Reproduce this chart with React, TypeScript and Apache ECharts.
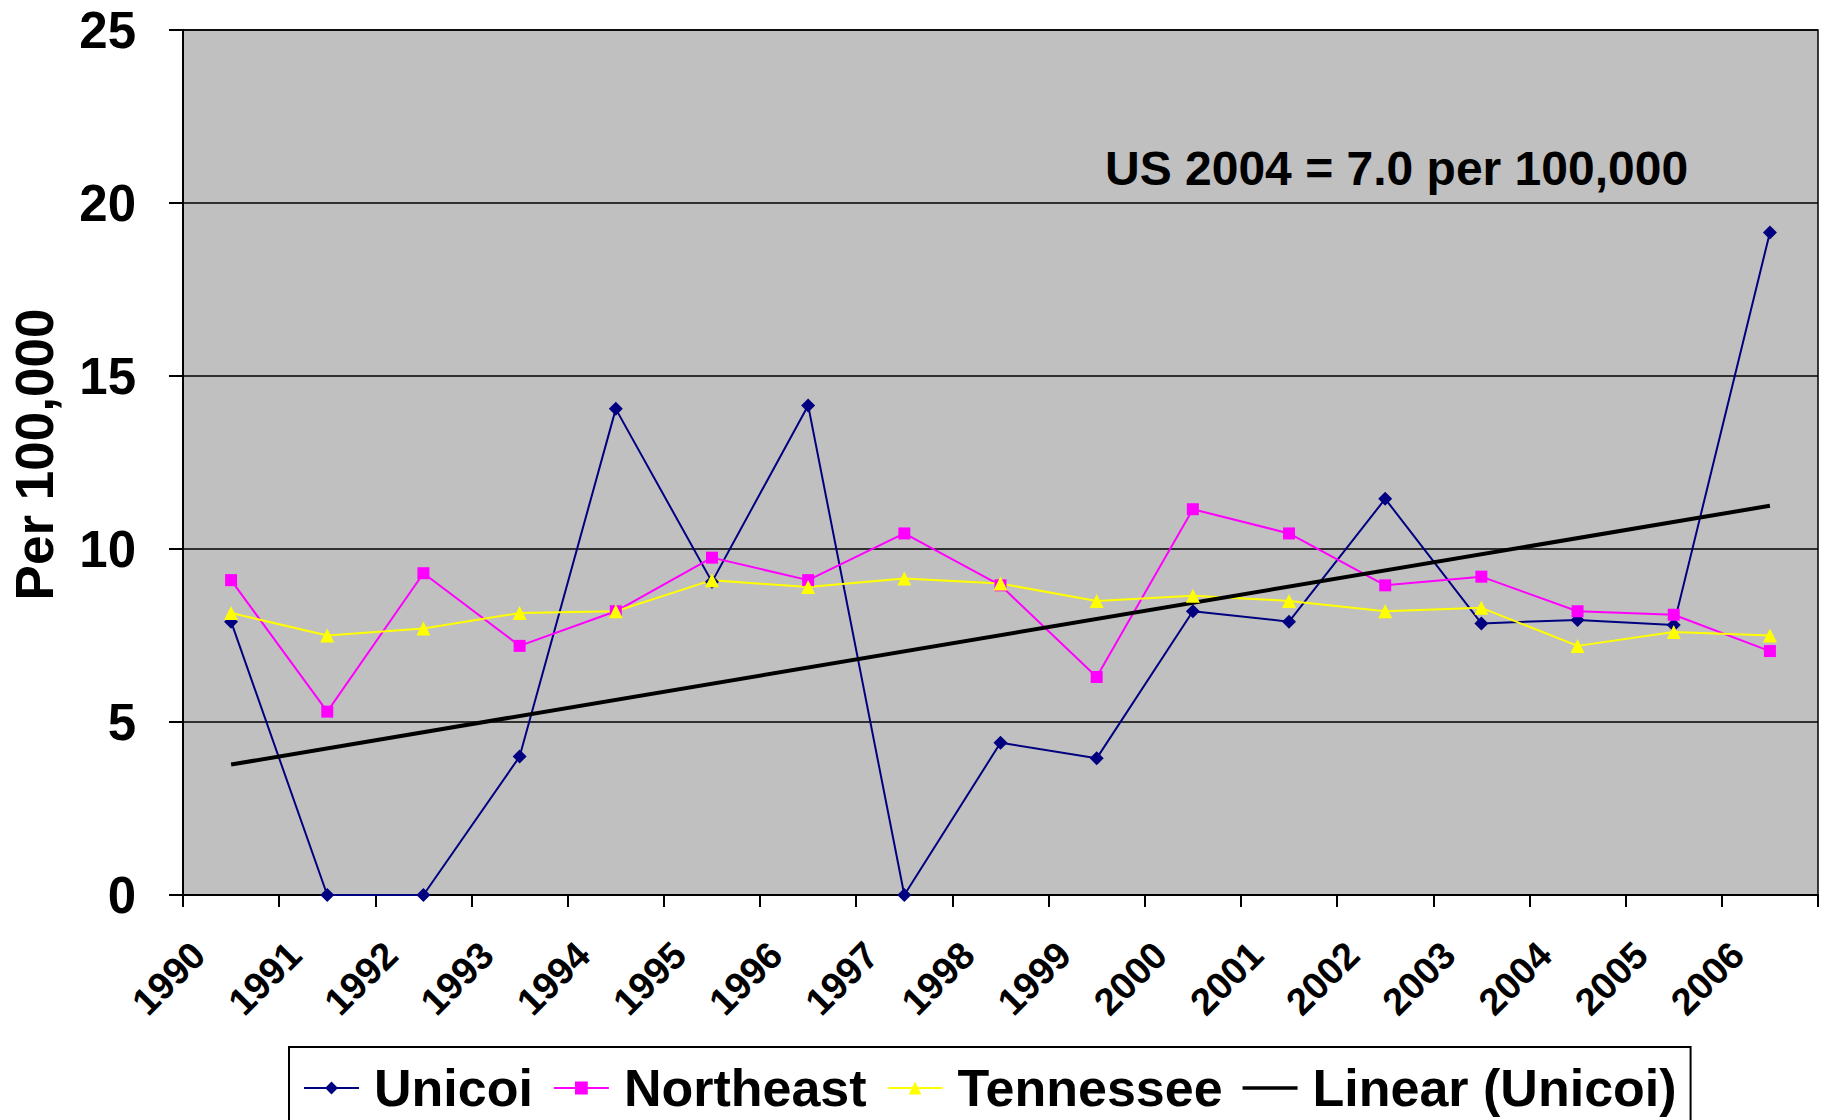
import React, { useEffect, useRef } from "react";
import * as echarts from "echarts";

const years = [
  "1990", "1991", "1992", "1993", "1994", "1995", "1996", "1997", "1998",
  "1999", "2000", "2001", "2002", "2003", "2004", "2005", "2006",
];

const unicoi = [7.9, 0, 0, 4.0, 14.05, 9.05, 14.15, 0, 4.4, 3.95, 8.2, 7.9, 11.45, 7.85, 7.95, 7.8, 19.15];
const northeast = [9.1, 5.3, 9.3, 7.2, 8.2, 9.75, 9.1, 10.45, 8.95, 6.3, 11.15, 10.45, 8.95, 9.2, 8.2, 8.1, 7.05];
const tennessee = [8.15, 7.5, 7.7, 8.15, 8.2, 9.1, 8.9, 9.15, 9.0, 8.5, 8.65, 8.5, 8.2, 8.3, 7.2, 7.6, 7.5];

// Trendline endpoints (1990 and 2006)
const trendStart = 3.77;
const trendEnd = 11.25;

const yTicks = { min: 0, max: 25, interval: 5 };

const annotationText = "US 2004 = 7.0 per 100,000";

const FONT = "'Liberation Sans', Arial, Helvetica, sans-serif";

export default function App() {
  const ref = useRef<HTMLDivElement>(null);

  useEffect(() => {
    document.body.style.margin = "0";
    if (!ref.current) return;
    const chart = echarts.init(ref.current, undefined, { renderer: "svg" });

    const trendData = years.map((_, i) =>
      i === 0 ? trendStart : i === years.length - 1 ? trendEnd : null
    );

    chart.setOption({
      animation: false,
      backgroundColor: "#ffffff",
      textStyle: { fontFamily: FONT },
      grid: {
        left: 177,
        right: 9,
        top: 30,
        bottom: 225,
        show: true,
        backgroundColor: "#C0C0C0",
        borderColor: "#000000",
        borderWidth: 1.5,
      },
      xAxis: {
        type: "category",
        data: years,
        boundaryGap: true,
        axisLine: { show: true, lineStyle: { color: "#000", width: 2 } },
        axisTick: { show: true, length: 12, alignWithLabel: false, interval: 0, lineStyle: { color: "#000", width: 2 } },
        axisLabel: {
          interval: 0,
          rotate: 45,
          margin: 21,
          padding: [0, 46, 0, 0],
          fontSize: 38,
          fontWeight: "bold",
          color: "#000",
          fontFamily: FONT,
        },
        splitLine: { show: false },
      },
      yAxis: {
        type: "value",
        min: yTicks.min,
        max: yTicks.max,
        interval: yTicks.interval,
        name: "Per 100,000",
        nameLocation: "middle",
        nameGap: 122,
        nameTextStyle: {
          fontSize: 53,
          fontWeight: "bold",
          color: "#000",
          fontFamily: FONT,
          padding: [0, 0, 0, 16],
        },
        axisLine: { show: true, lineStyle: { color: "#000", width: 2 } },
        axisTick: { show: true, length: 14, inside: false, lineStyle: { color: "#000", width: 2 } },
        axisLabel: {
          margin: 47,
          fontSize: 51,
          fontWeight: "bold",
          color: "#000",
          fontFamily: FONT,
        },
        splitLine: { show: true, lineStyle: { color: "#000", width: 1.5 } },
      },
      legend: {
        left: 289,
        top: 1047,
        orient: "horizontal",
        backgroundColor: "#ffffff",
        borderColor: "#000",
        borderWidth: 2,
        padding: [14, 14, 40, 14],
        itemWidth: 55,
        itemHeight: 16,
        itemGap: 20,
        textStyle: {
          fontSize: 52,
          fontWeight: "bold",
          color: "#000",
          fontFamily: FONT,
          lineHeight: 54,
          padding: [0, 0, 0, 10],
        },
        data: [
          "Unicoi",
          "Northeast",
          "Tennessee",
          { name: "Linear (Unicoi)", icon: "path://M0,0h55v3.5h-55z", itemStyle: { color: "#000" } },
        ],
      },
      graphic: [
        {
          type: "text",
          left: 1105,
          top: 144,
          z: 100,
          style: {
            text: annotationText,
            fontSize: 48,
            fontWeight: "bold",
            fill: "#000",
            fontFamily: FONT,
          },
        },
      ],
      series: [
        {
          name: "Unicoi",
          type: "line",
          data: unicoi,
          symbol: "diamond",
          symbolSize: 14,
          itemStyle: { color: "#000080" },
          lineStyle: { color: "#000080", width: 2 },
        },
        {
          name: "Northeast",
          type: "line",
          data: northeast,
          symbol: "rect",
          symbolSize: 12,
          itemStyle: { color: "#FF00FF" },
          lineStyle: { color: "#FF00FF", width: 2 },
        },
        {
          name: "Tennessee",
          type: "line",
          data: tennessee,
          symbol: "triangle",
          symbolSize: 14,
          itemStyle: { color: "#FFFF00" },
          lineStyle: { color: "#FFFF00", width: 2 },
        },
        {
          name: "Linear (Unicoi)",
          type: "line",
          data: trendData,
          connectNulls: true,
          symbol: "none",
          showSymbol: false,
          itemStyle: { color: "#000" },
          lineStyle: { color: "#000", width: 4 },
        },
      ],
    });

    return () => {
      chart.dispose();
    };
  }, []);

  return (
    <div
      ref={ref}
      style={{ position: "absolute", left: 0, top: 0, width: 1827, height: 1120 }}
    />
  );
}
